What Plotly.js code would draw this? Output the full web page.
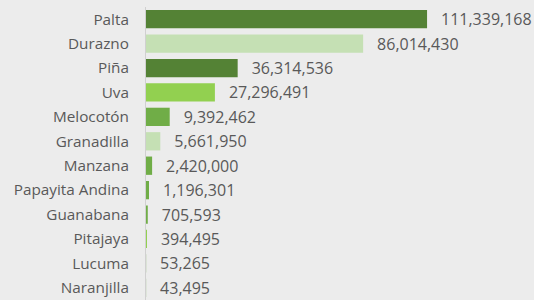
<!DOCTYPE html>
<html><head><meta charset="utf-8">
<script src="https://cdn.plot.ly/plotly-3.0.1.min.js"></script>
<style>html,body{margin:0;padding:0;background:#ececec;}#c{width:534px;height:300px;}</style>
</head><body><div id="c"></div>
<script>
const categories = ["Palta","Durazno","Piña","Uva","Melocotón","Granadilla","Manzana","Papayita Andina","Guanabana","Pitajaya","Lucuma","Naranjilla"];
const values = [111339168, 86014430, 36314536, 27296491, 9392462, 5661950, 2420000, 1196301, 705593, 394495, 53265, 43495];
const colors = ["#548235","#c5e0b4","#548235","#92d050","#70ad47","#c5e0b4","#70ad47","#70ad47","#70ad47","#92d050","#70ad47","#70ad47"];

Plotly.newPlot("c", [{
  type: "bar",
  orientation: "h",
  x: values,
  y: categories,
  marker: {color: colors},
  texttemplate: "\u00a0\u00a0\u2009%{x:,}",
  textposition: "outside",
  constraintext: "none",
  cliponaxis: false,
  textfont: {family: "Open Sans", size: 16, color: "#595959"},
  hoverinfo: "none"
}], {
  width: 534, height: 300,
  paper_bgcolor: "#ececec", plot_bgcolor: "#ececec",
  margin: {l: 146, r: 0, t: 7, b: 0},
  bargap: 0.25,
  showlegend: false,
  xaxis: {range: [0, 153.7e6], visible: false, fixedrange: true},
  yaxis: {autorange: "reversed", showline: true, linecolor: "#d0d0d0", linewidth: 1,
          showgrid: false, ticks: "", ticklabelstandoff: 13,
          tickfont: {family: "Open Sans", size: 15.3, color: "#595959"}, fixedrange: true},
  font: {family: "Open Sans"}
}, {displayModeBar: false, staticPlot: true});
</script></body></html>
